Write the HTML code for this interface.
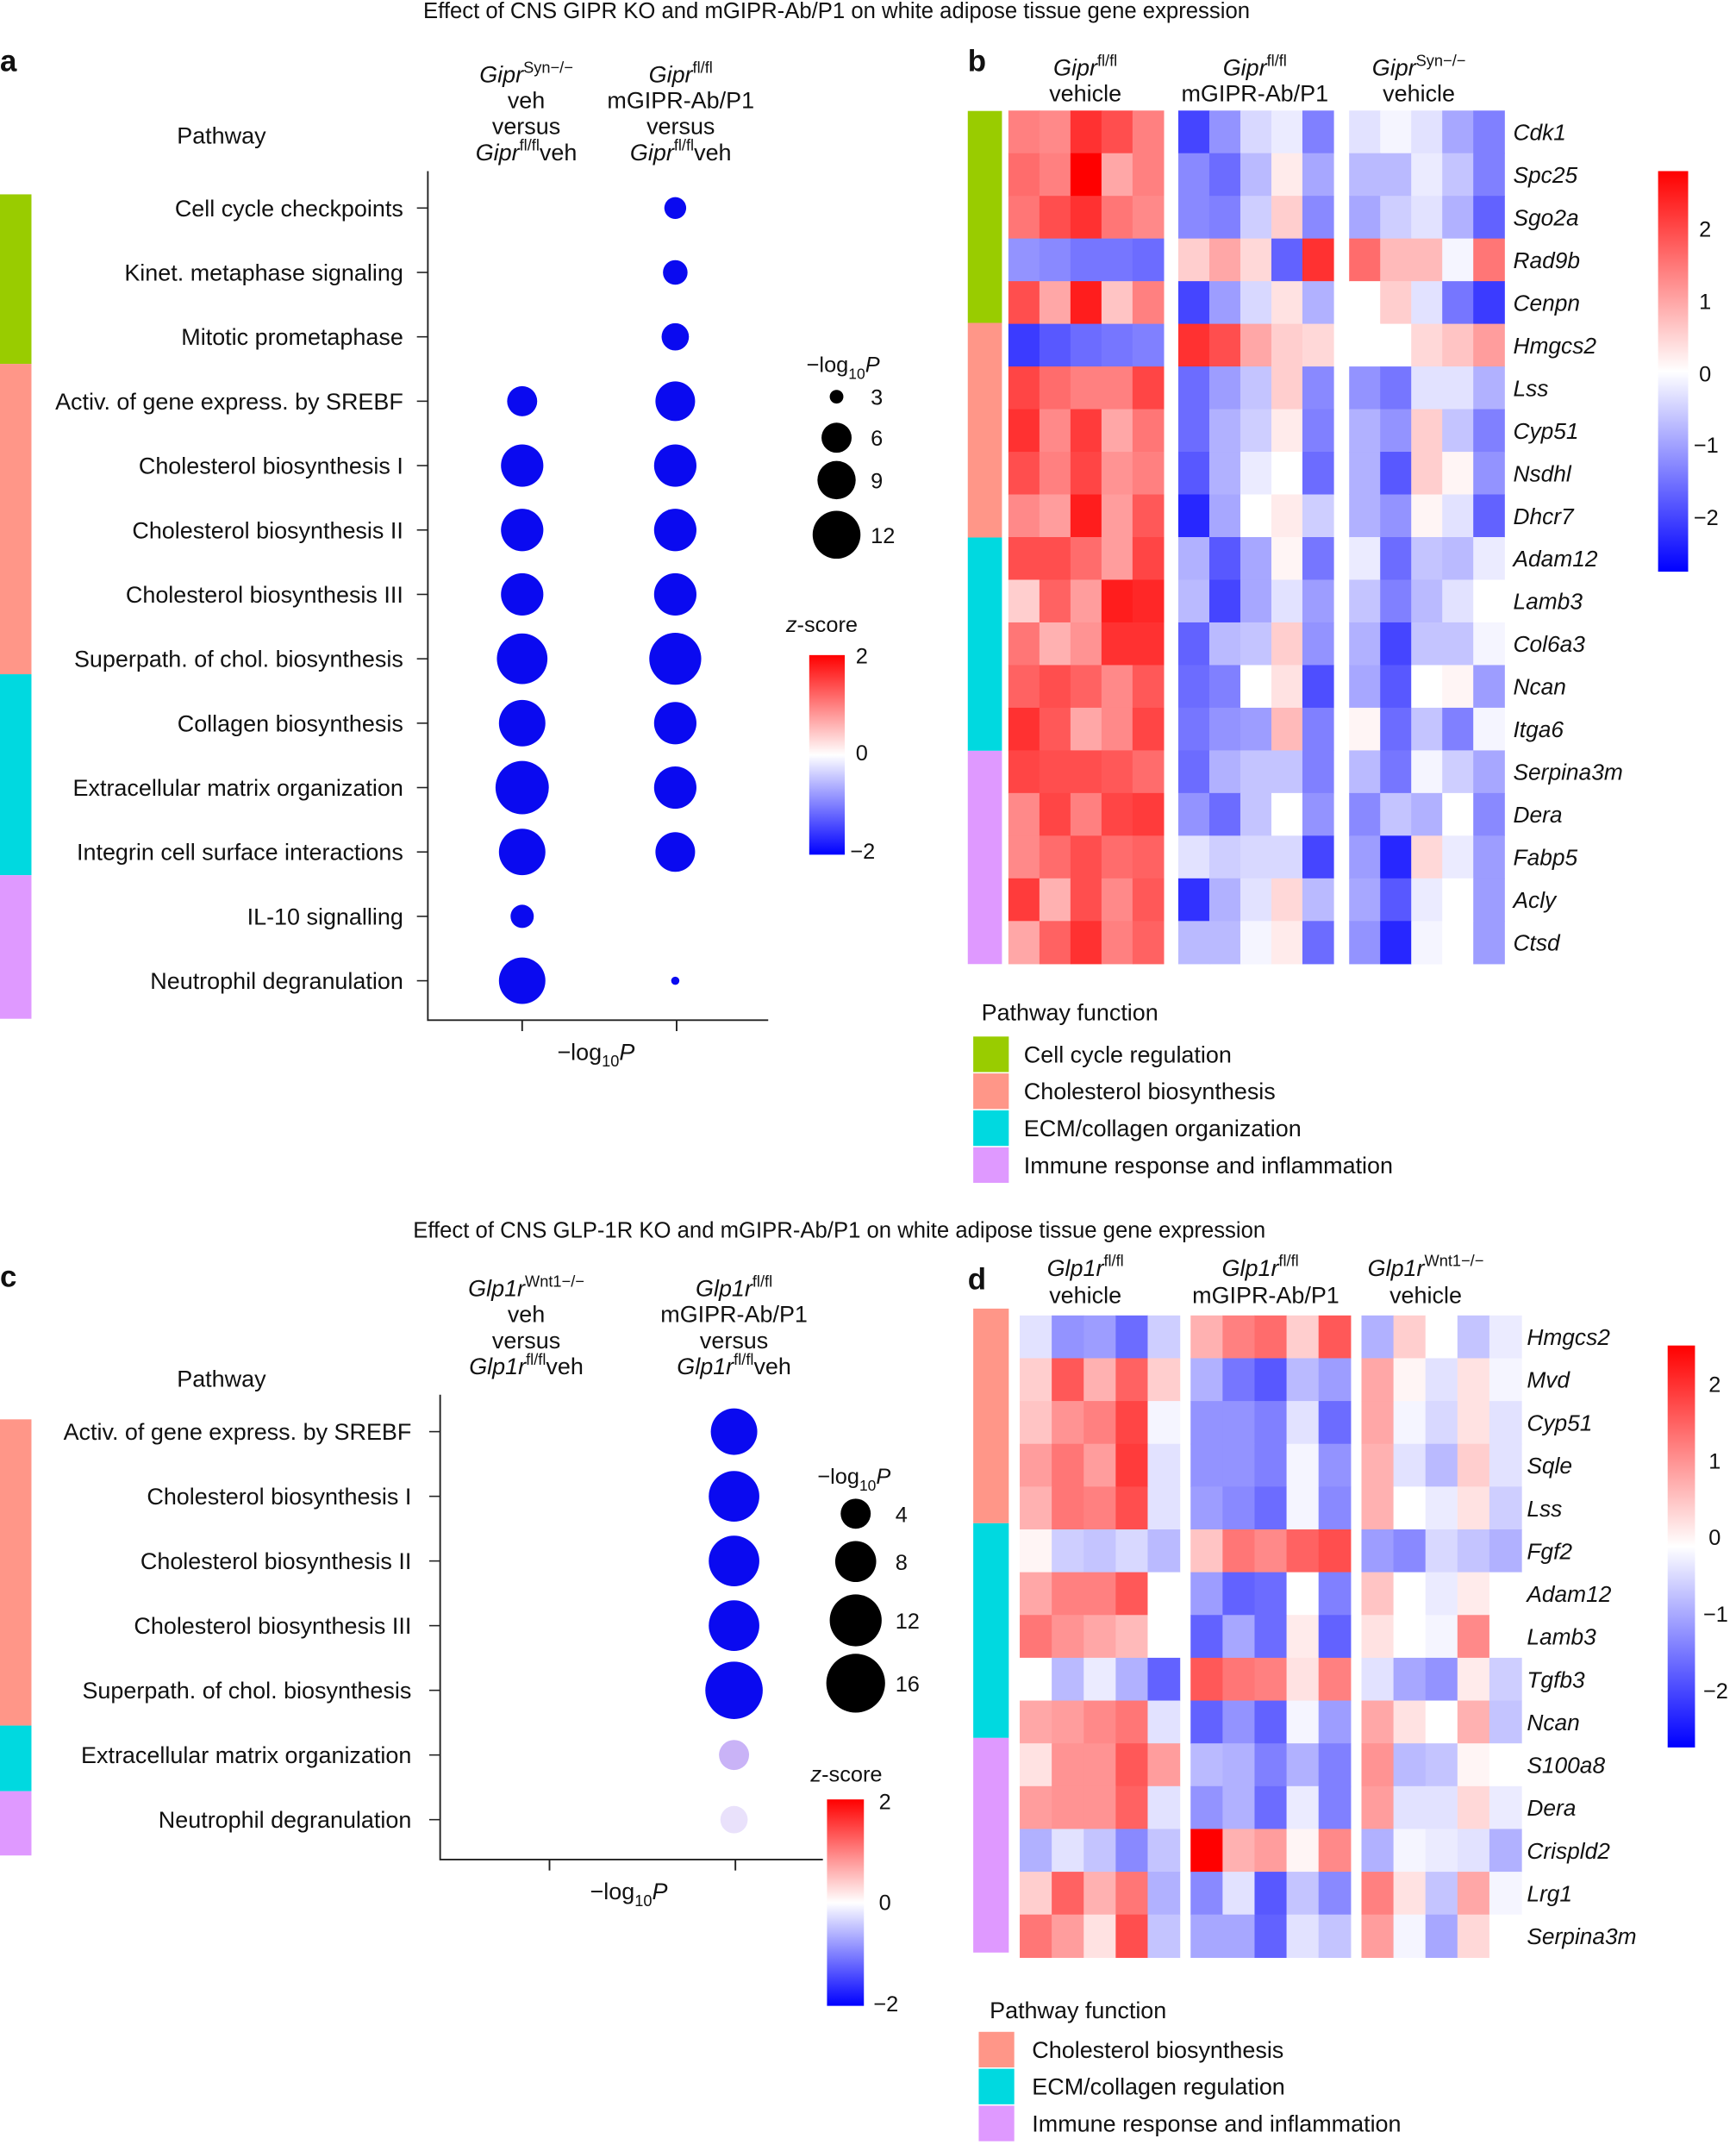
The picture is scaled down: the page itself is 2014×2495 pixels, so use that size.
<!DOCTYPE html>
<html><head><meta charset="utf-8"><style>
html,body{margin:0;padding:0;background:#fff;}
svg{display:block;}
text{font-family:"Liberation Sans",sans-serif;fill:#111;}
</style></head><body>
<svg id="s" width="2014" height="2495" viewBox="0 0 1270 1573" xmlns="http://www.w3.org/2000/svg">
<defs>
<linearGradient id="zg" x1="0" y1="0" x2="0" y2="1">
<stop offset="0" stop-color="#ff0000"/><stop offset="0.5" stop-color="#ffffff"/><stop offset="1" stop-color="#0000ff"/>
</linearGradient>
</defs>
<g id="g"></g>
<text x="612" y="13" font-size="16.2" text-anchor="middle">Effect of CNS GIPR KO and mGIPR-Ab/P1 on white adipose tissue gene expression</text>
<text x="614" y="905" font-size="16.2" text-anchor="middle">Effect of CNS GLP-1R KO and mGIPR-Ab/P1 on white adipose tissue gene expression</text>
<text x="0" y="52" font-size="22" font-weight="bold">a</text>
<text x="708" y="52" font-size="22" font-weight="bold">b</text>
<text x="0" y="941" font-size="22" font-weight="bold">c</text>
<text x="708" y="943" font-size="22" font-weight="bold">d</text>

<g font-size="17" text-anchor="middle">
<text x="385" y="60"><tspan font-style="italic">Gipr</tspan><tspan font-size="11.5" dy="-7">Syn−/−</tspan></text>
<text x="385" y="79">veh</text><text x="385" y="98">versus</text>
<text x="385" y="117"><tspan font-style="italic">Gipr</tspan><tspan font-size="11.5" dy="-7">fl/fl</tspan><tspan dy="7">veh</tspan></text>
<text x="498" y="60"><tspan font-style="italic">Gipr</tspan><tspan font-size="11.5" dy="-7">fl/fl</tspan></text>
<text x="498" y="79">mGIPR-Ab/P1</text><text x="498" y="98">versus</text>
<text x="498" y="117"><tspan font-style="italic">Gipr</tspan><tspan font-size="11.5" dy="-7">fl/fl</tspan><tspan dy="7">veh</tspan></text>
<text x="162" y="105">Pathway</text>
<text x="385" y="948"><tspan font-style="italic">Glp1r</tspan><tspan font-size="11.5" dy="-7">Wnt1−/−</tspan></text>
<text x="385" y="967">veh</text><text x="385" y="986">versus</text>
<text x="385" y="1005"><tspan font-style="italic">Glp1r</tspan><tspan font-size="11.5" dy="-7">fl/fl</tspan><tspan dy="7">veh</tspan></text>
<text x="537" y="948"><tspan font-style="italic">Glp1r</tspan><tspan font-size="11.5" dy="-7">fl/fl</tspan></text>
<text x="537" y="967">mGIPR-Ab/P1</text><text x="537" y="986">versus</text>
<text x="537" y="1005"><tspan font-style="italic">Glp1r</tspan><tspan font-size="11.5" dy="-7">fl/fl</tspan><tspan dy="7">veh</tspan></text>
<text x="162" y="1014">Pathway</text>
<text x="436" y="775">−log<tspan font-size="11.5" dy="5">10</tspan><tspan dy="-5" font-style="italic">P</tspan></text>
<text x="460" y="1389">−log<tspan font-size="11.5" dy="5">10</tspan><tspan dy="-5" font-style="italic">P</tspan></text>
<text x="794" y="55"><tspan font-style="italic">Gipr</tspan><tspan font-size="11.5" dy="-7">fl/fl</tspan></text><text x="794" y="74">vehicle</text>
<text x="918" y="55"><tspan font-style="italic">Gipr</tspan><tspan font-size="11.5" dy="-7">fl/fl</tspan></text><text x="918" y="74">mGIPR-Ab/P1</text>
<text x="1038" y="55"><tspan font-style="italic">Gipr</tspan><tspan font-size="11.5" dy="-7">Syn−/−</tspan></text><text x="1038" y="74">vehicle</text>
<text x="794" y="933"><tspan font-style="italic">Glp1r</tspan><tspan font-size="11.5" dy="-7">fl/fl</tspan></text><text x="794" y="953">vehicle</text>
<text x="922" y="933"><tspan font-style="italic">Glp1r</tspan><tspan font-size="11.5" dy="-7">fl/fl</tspan></text><text x="926" y="953">mGIPR-Ab/P1</text>
<text x="1043" y="933"><tspan font-style="italic">Glp1r</tspan><tspan font-size="11.5" dy="-7">Wnt1−/−</tspan></text><text x="1043" y="953">vehicle</text>
</g>

<g stroke="#222" stroke-width="1.2" fill="none">
<path d="M313 125 V746 H562"/><path d="M382 746 v8 M495 746 v8"/>
<path d="M322 1020 V1360 H602"/><path d="M402 1360 v8 M538 1360 v8"/>
</g>
<text x="590" y="272" font-size="16">−log<tspan font-size="11" dy="5">10</tspan><tspan dy="-5" font-style="italic">P</tspan></text>
<g fill="#000"><circle cx="612" cy="290" r="5"/><circle cx="612" cy="320" r="11"/><circle cx="612" cy="351" r="14"/><circle cx="612" cy="391" r="17.5"/></g>
<g font-size="16"><text x="637" y="296">3</text><text x="637" y="326">6</text><text x="637" y="357">9</text><text x="637" y="397">12</text></g>
<text x="575" y="462" font-size="16"><tspan font-style="italic">z</tspan>-score</text>
<rect x="592" y="479" width="26" height="146" fill="url(#zg)"/>
<g font-size="16"><text x="626" y="485">2</text><text x="626" y="556">0</text><text x="622" y="628">−2</text></g>
<text x="598" y="1085" font-size="16">−log<tspan font-size="11" dy="5">10</tspan><tspan dy="-5" font-style="italic">P</tspan></text>
<g fill="#000"><circle cx="626" cy="1107" r="11"/><circle cx="626" cy="1142" r="15"/><circle cx="626" cy="1185" r="19"/><circle cx="626" cy="1231" r="21.5"/></g>
<g font-size="16"><text x="655" y="1113">4</text><text x="655" y="1148">8</text><text x="655" y="1191">12</text><text x="655" y="1237">16</text></g>
<text x="593" y="1303" font-size="16"><tspan font-style="italic">z</tspan>-score</text>
<rect x="605" y="1316" width="27" height="151" fill="url(#zg)"/>
<g font-size="16"><text x="643" y="1323">2</text><text x="643" y="1397">0</text><text x="639" y="1471">−2</text></g>
<rect x="1213" y="125" width="22" height="293" fill="url(#zg)"/>
<g font-size="16"><text x="1243" y="173">2</text><text x="1243" y="226">1</text><text x="1243" y="279">0</text><text x="1239" y="331">−1</text><text x="1239" y="384">−2</text></g>
<rect x="1220" y="984" width="20" height="294" fill="url(#zg)"/>
<g font-size="16"><text x="1250" y="1018">2</text><text x="1250" y="1074">1</text><text x="1250" y="1130">0</text><text x="1246" y="1186">−1</text><text x="1246" y="1242">−2</text></g>
<g font-size="17">
<text x="718" y="746">Pathway function</text>
<rect x="712" y="758" width="26" height="26" fill="#99cc00"/><text x="749" y="777">Cell cycle regulation</text>
<rect x="712" y="785" width="26" height="26" fill="#ff9688"/><text x="749" y="804">Cholesterol biosynthesis</text>
<rect x="712" y="812" width="26" height="26" fill="#00d9e0"/><text x="749" y="831">ECM/collagen organization</text>
<rect x="712" y="839" width="26" height="26" fill="#df99ff"/><text x="749" y="858">Immune response and inflammation</text>
<text x="724" y="1476">Pathway function</text>
<rect x="716" y="1486" width="26" height="26" fill="#ff9688"/><text x="755" y="1505">Cholesterol biosynthesis</text>
<rect x="716" y="1513" width="26" height="26" fill="#00d9e0"/><text x="755" y="1532">ECM/collagen regulation</text>
<rect x="716" y="1540" width="26" height="26" fill="#df99ff"/><text x="755" y="1559">Immune response and inflammation</text>
</g>
</svg>
<script>
var NS="http://www.w3.org/2000/svg",G=document.getElementById("g");
function el(t,a,txt){var e=document.createElementNS(NS,t);for(var k in a)e.setAttribute(k,a[k]);if(txt!==undefined)e.textContent=txt;G.appendChild(e);return e;}
function col(v){var t=Math.min(Math.abs(v)/2.6,1),c=Math.round(255*(1-t));return v>=0?"rgb(255,"+c+","+c+")":"rgb("+c+","+c+",255)";}
el("rect",{x:0,y:142,width:23,height:124,fill:"#99cc00"});
el("rect",{x:0,y:266,width:23,height:227,fill:"#ff9688"});
el("rect",{x:0,y:493,width:23,height:147,fill:"#00d9e0"});
el("rect",{x:0,y:640,width:23,height:105,fill:"#df99ff"});
el("rect",{x:0,y:1038,width:23,height:224,fill:"#ff9688"});
el("rect",{x:0,y:1262,width:23,height:48,fill:"#00d9e0"});
el("rect",{x:0,y:1310,width:23,height:47,fill:"#df99ff"});
el("rect",{x:708,y:81,width:25,height:155,fill:"#99cc00"});
el("rect",{x:708,y:236,width:25,height:157,fill:"#ff9688"});
el("rect",{x:708,y:393,width:25,height:156,fill:"#00d9e0"});
el("rect",{x:708,y:549,width:25,height:156,fill:"#df99ff"});
el("rect",{x:712,y:957,width:26,height:157,fill:"#ff9688"});
el("rect",{x:712,y:1114,width:26,height:157,fill:"#00d9e0"});
el("rect",{x:712,y:1271,width:26,height:157,fill:"#df99ff"});
var pa=["Cell cycle checkpoints","Kinet. metaphase signaling","Mitotic prometaphase","Activ. of gene express. by SREBF","Cholesterol biosynthesis I","Cholesterol biosynthesis II","Cholesterol biosynthesis III","Superpath. of chol. biosynthesis","Collagen biosynthesis","Extracellular matrix organization","Integrin cell surface interactions","IL-10 signalling","Neutrophil degranulation"];
var r1=[0,0,0,11,15.5,15.5,15.5,18.5,17,19.5,17,8.5,17],r2=[8,9,10,14.5,15.5,15.5,15.5,19,15.5,15.5,14.5,0,3];
pa.forEach(function(n,i){var y=152+i*47.1;el("text",{x:295,y:y+6,"font-size":17,"text-anchor":"end"},n);el("line",{x1:305,x2:313,y1:y,y2:y,stroke:"#222"});
if(r1[i])el("circle",{cx:382,cy:y,r:r1[i],fill:"#0a0af0"});if(r2[i])el("circle",{cx:494,cy:y,r:r2[i],fill:"#0a0af0"});});
var pc=["Activ. of gene express. by SREBF","Cholesterol biosynthesis I","Cholesterol biosynthesis II","Cholesterol biosynthesis III","Superpath. of chol. biosynthesis","Extracellular matrix organization","Neutrophil degranulation"];
var rc=[17,18.5,18.5,18.5,21,11,10],cc=["#0a0af0","#0a0af0","#0a0af0","#0a0af0","#0a0af0","#c9b3f7","#e9e1fb"];
pc.forEach(function(n,i){var y=1047+i*47.3;el("text",{x:301,y:y+6,"font-size":17,"text-anchor":"end"},n);el("line",{x1:314,x2:322,y1:y,y2:y,stroke:"#222"});
el("circle",{cx:537,cy:y,r:rc[i],fill:cc[i]});});
var gb=["Cdk1","Spc25","Sgo2a","Rad9b","Cenpn","Hmgcs2","Lss","Cyp51","Nsdhl","Dhcr7","Adam12","Lamb3","Col6a3","Ncan","Itga6","Serpina3m","Dera","Fabp5","Acly","Ctsd"];
var vb=[
[1.3,1.2,2.1,1.8,1.3,-1.9,-1.1,-0.4,-0.2,-1.3,-0.3,-0.1,-0.3,-0.9,-1.3],
[1.5,1.3,2.6,0.9,1.3,-1.2,-1.5,-0.7,0.2,-0.9,-0.7,-0.7,-0.2,-0.6,-1.3],
[1.4,1.8,2.1,1.4,1.2,-1.2,-1.3,-0.5,0.5,-1.2,-0.9,-0.5,-0.3,-0.8,-1.6],
[-1.1,-1.2,-1.4,-1.4,-1.5,0.5,0.9,0.4,-1.6,2.1,1.5,0.7,0.7,-0.1,1.4],
[1.8,0.9,2.3,0.6,1.3,-1.9,-1.0,-0.4,0.3,-0.8,0,0.5,-0.3,-1.4,-2.0],
[-2.0,-1.7,-1.5,-1.4,-1.3,2.1,1.8,0.9,0.5,0.4,0,0,0.4,0.6,1.0],
[1.9,1.5,1.3,1.3,1.9,-1.5,-1.0,-0.6,0.5,-1.2,-1.1,-1.4,-0.3,-0.3,-0.8],
[2.1,1.2,2.0,0.9,1.4,-1.5,-0.8,-0.5,0.2,-1.3,-0.8,-1.1,0.5,-0.6,-1.3],
[1.8,1.3,1.9,1.1,1.3,-1.7,-0.8,-0.2,0,-1.5,-0.8,-1.7,0.5,0.1,-1.1],
[1.2,1.0,2.3,1.0,1.7,-2.2,-0.9,0,0.2,-0.5,-0.8,-1.1,0.1,-0.3,-1.6],
[1.8,1.8,1.5,1.0,1.9,-0.8,-1.7,-0.9,0.1,-1.4,-0.2,-1.5,-0.6,-0.7,-0.2],
[0.5,1.6,1.0,2.3,2.2,-0.7,-1.9,-0.9,-0.3,-1.0,-0.6,-1.3,-0.7,-0.3,0],
[1.4,0.8,1.1,2.1,2.1,-1.6,-0.7,-0.6,0.5,-1.1,-0.8,-1.9,-0.6,-0.6,-0.1],
[1.6,1.8,1.6,1.2,1.7,-1.5,-1.3,0,0.3,-1.8,-0.9,-1.7,0,0.1,-1.0],
[2.1,1.7,0.9,1.2,1.9,-1.4,-1.1,-1.0,0.7,-1.3,0.1,-1.5,-0.6,-1.3,-0.1],
[1.9,1.8,1.8,1.7,1.5,-1.5,-0.8,-0.6,-0.6,-1.3,-0.7,-1.4,-0.1,-0.5,-0.9],
[1.2,1.9,1.3,1.9,2.0,-1.1,-1.5,-0.6,0,-1.1,-1.2,-0.6,-0.8,0,-1.2],
[1.2,1.5,1.8,1.5,1.6,-0.3,-0.5,-0.4,-0.4,-1.9,-1.0,-2.2,0.4,-0.2,-1.0],
[2.0,0.8,1.8,1.2,1.7,-2.1,-0.8,-0.3,0.4,-0.7,-0.9,-1.7,-0.2,0,-1.0],
[0.9,1.6,2.1,1.3,1.6,-0.7,-0.7,-0.1,0.2,-1.5,-1.1,-2.2,-0.1,0,-1.0]];
function heat(vals,genes,x0s,w,y0,h,gx){
vals.forEach(function(row,i){row.forEach(function(v,j){var b=Math.floor(j/5),k=j%5;
el("rect",{x:(x0s[b]+k*w).toFixed(2),y:(y0+i*h).toFixed(2),width:(w+0.4).toFixed(2),height:(h+0.4).toFixed(2),fill:col(v)});});
el("text",{x:gx,y:(y0+i*h+h/2+6).toFixed(1),"font-size":16.6,"font-style":"italic"},genes[i]);});}
heat(vb,gb,[737.7,862,987],22.7,80.7,31.2,1107);
var gd=["Hmgcs2","Mvd","Cyp51","Sqle","Lss","Fgf2","Adam12","Lamb3","Tgfb3","Ncan","S100a8","Dera","Crispld2","Lrg1","Serpina3m"];
var vd=[
[-0.3,-1.1,-1.0,-1.5,-0.5,0.8,1.3,1.5,0.5,1.7,-0.8,0.5,0,-0.6,-0.2],
[0.5,1.7,0.8,1.6,0.5,-0.8,-1.4,-1.7,-0.7,-1.0,0.9,0.1,-0.3,0.3,-0.1],
[0.6,1.1,1.3,1.9,-0.1,-1.1,-1.1,-1.3,-0.3,-1.5,0.9,-0.1,-0.4,0.3,-0.3],
[1.0,1.4,1.0,2.0,-0.3,-1.1,-1.1,-1.3,-0.1,-1.1,0.8,-0.3,-0.7,0.5,-0.3],
[0.8,1.4,1.3,1.8,-0.3,-1.0,-1.2,-1.5,-0.1,-1.2,0.8,0,-0.2,0.3,-0.5],
[0.1,-0.5,-0.6,-0.4,-0.7,0.6,1.4,1.2,1.6,1.8,-1.0,-1.2,-0.4,-0.6,-0.8],
[0.9,1.3,1.3,1.7,0,-1.0,-1.6,-1.5,0,-1.3,0.6,0,-0.2,0.2,0],
[1.4,1.1,0.9,0.7,0,-1.6,-0.9,-1.5,0.2,-1.6,0.3,0,-0.1,1.2,0],
[0,-0.7,-0.2,-0.8,-1.6,1.7,1.4,1.3,0.3,1.3,-0.3,-0.9,-1.1,0.2,-0.5],
[0.9,1.0,1.2,1.4,-0.3,-1.6,-1.1,-1.6,-0.1,-1.0,0.9,0.3,0,0.8,-0.6],
[0.3,1.1,1.1,1.7,1.0,-0.7,-0.8,-1.3,-0.8,-1.3,1.1,-0.7,-0.6,0.1,0],
[1.0,1.1,1.1,1.6,-0.3,-1.1,-0.8,-1.5,-0.2,-1.3,1.0,-0.3,-0.3,0.4,-0.2],
[-0.8,-0.3,-0.6,-1.2,-0.6,2.6,0.8,1.0,0.1,1.2,-0.8,-0.1,-0.2,-0.3,-0.8],
[0.5,1.6,0.8,1.4,-0.8,-1.2,-0.3,-1.7,-0.6,-1.2,1.3,0.3,-0.6,0.9,-0.1],
[1.4,1.0,0.3,1.8,-0.6,-0.9,-0.9,-1.6,-0.3,-0.6,1.0,-0.1,-0.9,0.4,0]];
heat(vd,gd,[746,871,996],23.4,962,31.3,1117);
</script>
</body></html>
